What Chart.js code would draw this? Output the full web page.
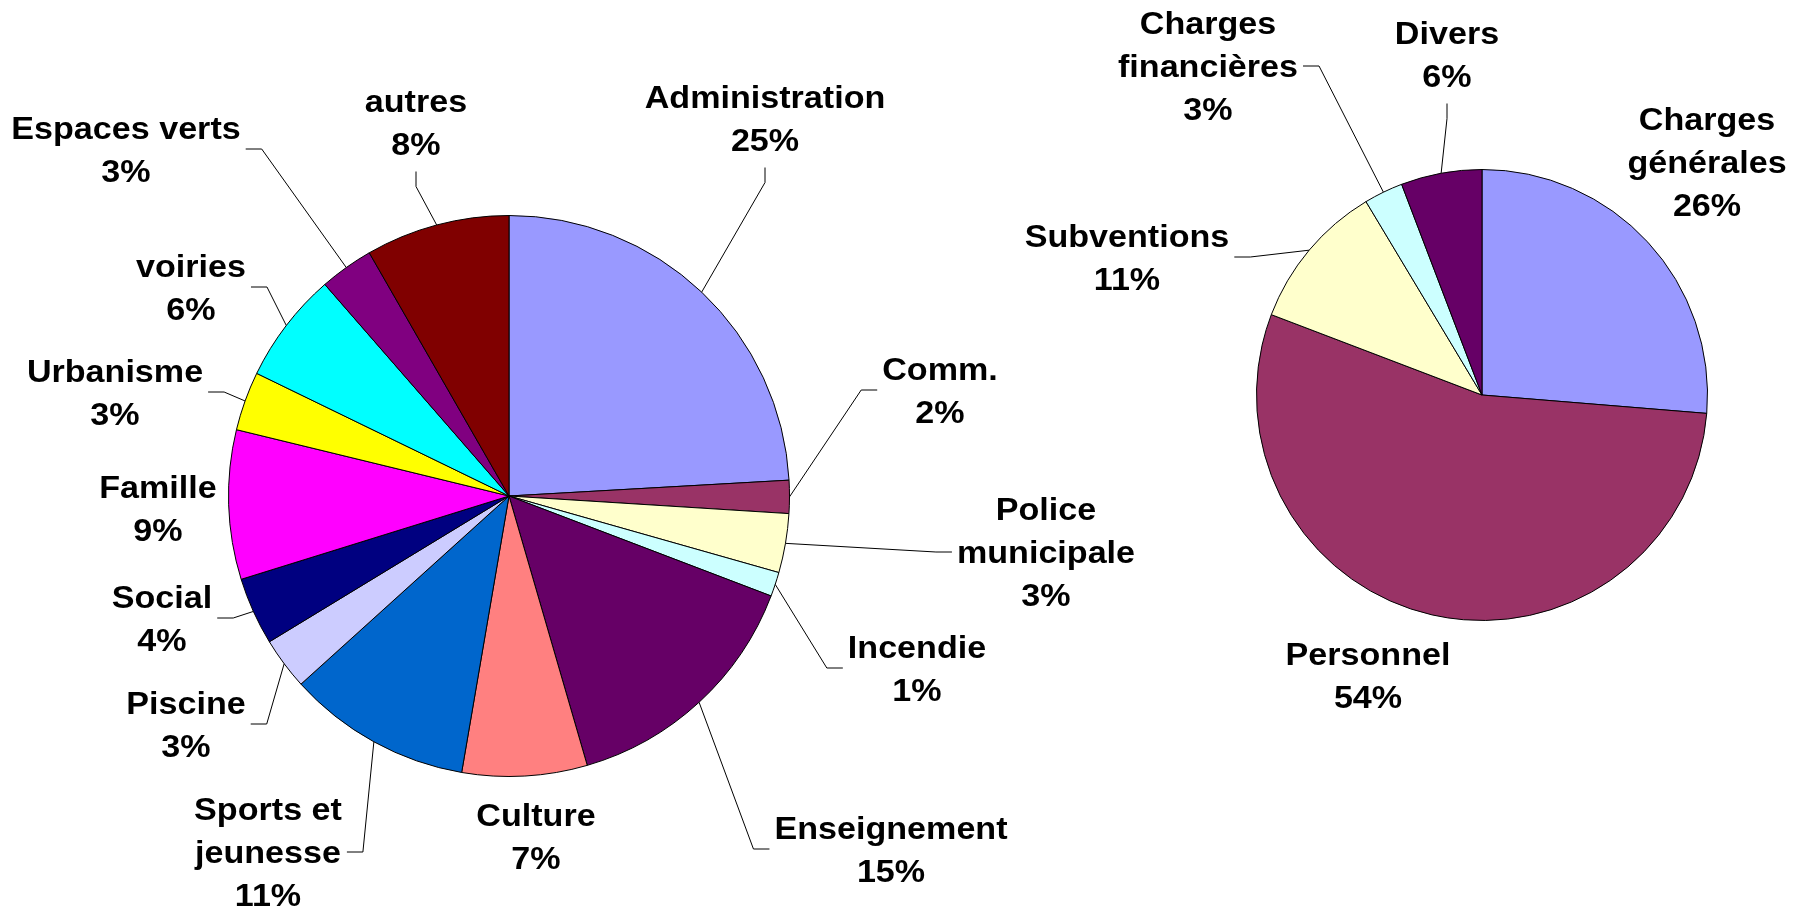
<!DOCTYPE html>
<html lang="fr">
<head>
<meta charset="utf-8">
<title>Répartition des dépenses</title>
<script src="https://cdn.jsdelivr.net/npm/chart.js@4"></script>
<style>
  html, body { margin: 0; padding: 0; background: #fff; }
  #wrap { position: relative; width: 1799px; height: 909px; }
  #wrap canvas { position: absolute; left: 0; top: 0; }
</style>
</head>
<body>
<div id="wrap">
  <canvas id="chartFonctions" width="1799" height="909"></canvas>
  <canvas id="chartNature" width="1799" height="909"></canvas>
</div>
<script>
// --- Camembert de gauche : dépenses par fonction ---
const fonctionsLabels = [
  'Administration', 'Comm.', ['Police', 'municipale'], 'Incendie', 'Enseignement',
  'Culture', ['Sports et', 'jeunesse'], 'Piscine', 'Social', 'Famille',
  'Urbanisme', 'voiries', 'Espaces verts', 'autres'
];
// parts (en %) mesurées sur les secteurs
const fonctionsValues = [24.1, 1.9, 3.4, 1.4, 14.7, 7.2, 10.6, 3.0, 3.9, 8.6, 3.4, 6.4, 3.1, 8.3];
// pourcentages tels qu'imprimés sur le graphique
const fonctionsPct = ['25%', '2%', '3%', '1%', '15%', '7%', '11%', '3%', '4%', '9%', '3%', '6%', '3%', '8%'];
const fonctionsColors = [
  '#9999FF', '#993366', '#FFFFCC', '#CCFFFF', '#660066',
  '#FF8080', '#0066CC', '#CCCCFF', '#000080', '#FF00FF',
  '#FFFF00', '#00FFFF', '#800080', '#800000'
];

// --- Camembert de droite : dépenses par nature ---
const natureLabels = [['Charges', 'générales'], 'Personnel', 'Subventions', ['Charges', 'financières'], 'Divers'];
const natureValues = [26.3, 54.5, 10.6, 2.8, 5.8];
const naturePct = ['26%', '54%', '11%', '3%', '6%'];
const natureColors = ['#9999FF', '#993366', '#FFFFCC', '#CCFFFF', '#660066'];

// --- Placement des étiquettes : décalage (px) depuis le centre du camembert + côté du trait de rappel ---
const fonctionsLabelPos = [
  [256, -378, 'bottom'], [431, -106, 'left'], [537, 56, 'left'], [408, 172, 'left'],
  [382, 353, 'left'], [27, 340, null], [-241, 356, 'right'], [-323, 228, 'right'],
  [-347, 122, 'right'], [-351, 12, null], [-394, -104, 'right'], [-318, -209, 'right'],
  [-383, -347, 'right'], [-93, -374, 'bottom']
];
const natureLabelPos = [
  [225, -233, null], [-114, 280, null], [-355, -138, 'right'], [-274, -329, 'right'], [-35, -341, 'bottom']
];

const FONT = 'bold 31px "Liberation Sans", Arial, sans-serif';
const STRETCH = 1.1;    // le texte d'origine est un peu plus large qu'Arial
const LINE_H = 43;
const CAP_H = 22;

// Étiquettes "nom / xx%" et traits de rappel, dessinés après les secteurs
const pieLabels = {
  id: 'pieLabels',
  afterDatasetsDraw(chart, args, opts) {
    const ctx = chart.ctx;
    const meta = chart.getDatasetMeta(0);
    ctx.save();
    ctx.font = FONT;
    ctx.fillStyle = '#000';
    ctx.strokeStyle = '#000';
    ctx.lineWidth = 1;
    meta.data.forEach((el, i) => {
      const arc = el.getProps(['x', 'y', 'startAngle', 'endAngle', 'outerRadius'], true);
      const [dx, dy, side] = opts.positions[i];
      const lines = [].concat(chart.data.labels[i], opts.pct[i]);
      const cx = arc.x + dx, cy = arc.y + dy;
      const halfW = Math.max(...lines.map(t => ctx.measureText(t).width)) * STRETCH / 2;
      const firstBase = cy - (lines.length - 1) * LINE_H / 2 + CAP_H / 2;

      if (side) {
        const mid = (arc.startAngle + arc.endAngle) / 2;
        const ax = arc.x + Math.cos(mid) * arc.outerRadius;
        const ay = arc.y + Math.sin(mid) * arc.outerRadius;
        let sx, sy, ex, ey;
        if (side === 'left') {
          sx = cx - halfW - 5; sy = cy; ex = sx - 16; ey = sy;
        } else if (side === 'right') {
          sx = cx + halfW + 5; sy = cy; ex = sx + 16; ey = sy;
        } else {
          sx = cx; sy = firstBase + (lines.length - 1) * LINE_H + 17; ex = sx; ey = sy + 15;
        }
        ctx.beginPath();
        ctx.moveTo(sx, sy);
        ctx.lineTo(ex, ey);
        ctx.lineTo(ax, ay);
        ctx.stroke();
      }

      lines.forEach((t, k) => {
        ctx.save();
        ctx.translate(cx, firstBase + k * LINE_H);
        ctx.scale(STRETCH, 1);
        ctx.textAlign = 'center';
        ctx.textBaseline = 'alphabetic';
        ctx.fillText(t, 0, 0);
        ctx.restore();
      });
    });
    ctx.restore();
  }
};

function makePie(canvasId, labels, values, pct, colors, positions, padding) {
  return new Chart(document.getElementById(canvasId), {
    type: 'pie',
    data: {
      labels: labels,
      datasets: [{
        data: values,
        backgroundColor: colors,
        borderColor: '#000',
        borderWidth: 1
      }]
    },
    options: {
      responsive: false,
      animation: false,
      layout: { padding: padding },
      plugins: {
        legend: { display: false },
        tooltip: { enabled: false },
        pieLabels: { positions: positions, pct: pct }
      }
    },
    plugins: [pieLabels]
  });
}

makePie('chartFonctions', fonctionsLabels, fonctionsValues, fonctionsPct, fonctionsColors, fonctionsLabelPos,
  { left: 228, right: 1009, top: 215, bottom: 132 });
makePie('chartNature', natureLabels, natureValues, naturePct, natureColors, natureLabelPos,
  { left: 1256, right: 91, top: 169, bottom: 288 });
</script>
</body>
</html>
